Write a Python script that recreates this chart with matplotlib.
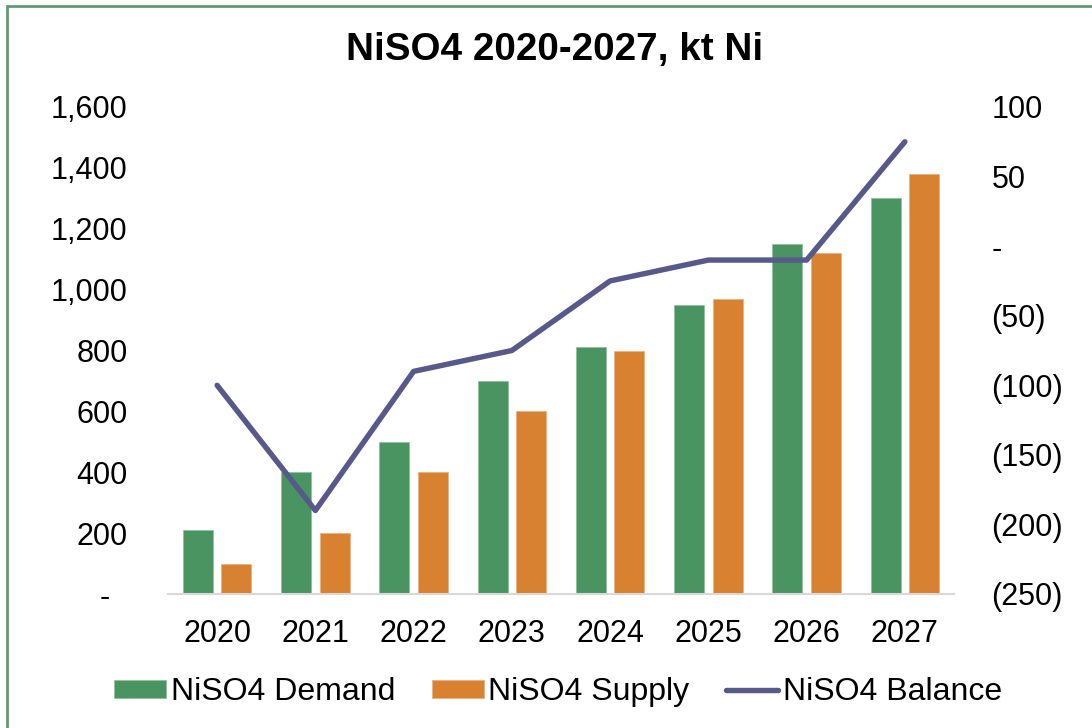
import matplotlib
matplotlib.use("Agg")
import matplotlib.pyplot as plt
import numpy as np
from matplotlib.patches import Rectangle
from matplotlib.ticker import FuncFormatter

plt.rcParams["font.family"] = ["Liberation Sans", "DejaVu Sans"]

years = ["2020", "2021", "2022", "2023", "2024", "2025", "2026", "2027"]
demand = [210, 400, 500, 700, 810, 950, 1150, 1300]
supply = [100, 200, 400, 600, 800, 970, 1120, 1380]
balance = [-100, -190, -90, -75, -25, -10, -10, 75]

GREEN = "#4A9462"
ORANGE = "#D78131"
NAVY = "#57598A"
FS = 22

fig = plt.figure(figsize=(10.92, 7.28), dpi=100)
W, H = 1092, 728

# outer frame
fig.patches.append(Rectangle((7 / W, -0.05), 1.2, 1 - 6 / H + 0.05,
                             transform=fig.transFigure, fill=False,
                             edgecolor="#5E9C6E", linewidth=2.0))

ax = fig.add_axes([168 / W, (H - 594) / H, (954 - 168) / W, (594 - 107) / H])
ax2 = ax.twinx()

x = np.arange(len(years))
bw = 0.305
off = 0.195
ax.bar(x - off, demand, bw, color=GREEN, edgecolor="#8FC29E", linewidth=0.6,
       label="NiSO4 Demand", zorder=2)
ax.bar(x + off, supply, bw, color=ORANGE, edgecolor="#EBB27E", linewidth=0.6,
       label="NiSO4 Supply", zorder=2)
ax2.plot(x, balance, color=NAVY, linewidth=3.9, solid_capstyle="round",
         solid_joinstyle="round", label="NiSO4 Balance")

ax.set_xlim(-0.5, 7.5)
ax.set_ylim(0, 1600)
ax2.set_ylim(-250, 100)
ax.set_yticks(np.arange(0, 1601, 200))
ax2.set_yticks(np.arange(-250, 101, 50))
ax.set_xticks(x)
ax.set_xticklabels(years)


def left_fmt(v, pos):
    if abs(v) < 1e-9:
        return "-  "
    return f"{v:,.0f}"


def right_fmt(v, pos):
    if abs(v) < 1e-9:
        return "-"
    if v < 0:
        return f"({abs(v):,.0f})"
    return f"{v:,.0f}"


ax.yaxis.set_major_formatter(FuncFormatter(left_fmt))
ax2.yaxis.set_major_formatter(FuncFormatter(right_fmt))

for a in (ax, ax2):
    for s in a.spines.values():
        s.set_visible(False)
    a.tick_params(length=0, labelsize=FS, colors="black")
ax.spines["bottom"].set_visible(True)
ax.spines["bottom"].set_color("#D9D9D9")
ax.spines["bottom"].set_linewidth(1.5)
ax.tick_params(axis="y", pad=29)
ax2.tick_params(axis="y", pad=27)
ax.tick_params(axis="x", pad=18)

fig.text(554.5 / W, 1 - 50 / H, "NiSO4 2020-2027, kt Ni", ha="center",
         va="center", fontsize=27.8, fontweight="bold")

h1, l1 = ax.get_legend_handles_labels()
h2, l2 = ax2.get_legend_handles_labels()
fig.legend(h1 + h2, l1 + l2, loc="center", bbox_to_anchor=(558 / W, 1 - 692 / H),
           ncol=3, frameon=False, fontsize=23, handlelength=1.63,
           handleheight=0.5, handletextpad=0.15, columnspacing=1.15,
           borderpad=0, borderaxespad=0)

fig.savefig("out.png", dpi=100, facecolor="white")
